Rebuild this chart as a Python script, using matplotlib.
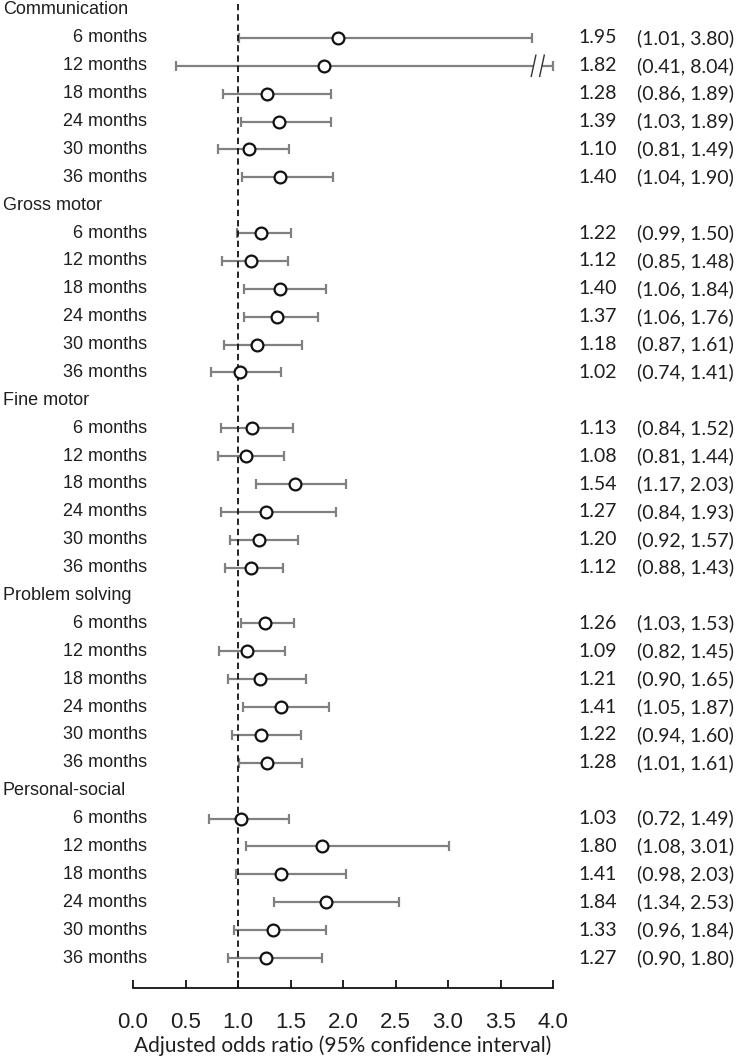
import matplotlib
matplotlib.use("Agg")
import matplotlib.pyplot as plt
import matplotlib.transforms as mtransforms
import numpy as np

domains = ["Communication", "Gross motor", "Fine motor", "Problem solving", "Personal-social"]
ages = ["6 months", "12 months", "18 months", "24 months", "30 months", "36 months"]

or_vals = [
    [1.95, 1.82, 1.28, 1.39, 1.10, 1.40],
    [1.22, 1.12, 1.40, 1.37, 1.18, 1.02],
    [1.13, 1.08, 1.54, 1.27, 1.20, 1.12],
    [1.26, 1.09, 1.21, 1.41, 1.22, 1.28],
    [1.03, 1.80, 1.41, 1.84, 1.33, 1.27],
]
ci_low = [
    [1.01, 0.41, 0.86, 1.03, 0.81, 1.04],
    [0.99, 0.85, 1.06, 1.06, 0.87, 0.74],
    [0.84, 0.81, 1.17, 0.84, 0.92, 0.88],
    [1.03, 0.82, 0.90, 1.05, 0.94, 1.01],
    [0.72, 1.08, 0.98, 1.34, 0.96, 0.90],
]
ci_high = [
    [3.80, 8.04, 1.89, 1.89, 1.49, 1.90],
    [1.50, 1.48, 1.84, 1.76, 1.61, 1.41],
    [1.52, 1.44, 2.03, 1.93, 1.57, 1.43],
    [1.53, 1.45, 1.65, 1.87, 1.60, 1.61],
    [1.49, 3.01, 2.03, 2.53, 1.84, 1.80],
]
xticks = [0.0, 0.5, 1.0, 1.5, 2.0, 2.5, 3.0, 3.5, 4.0]
xlabel = "Adjusted odds ratio (95% confidence interval)"

W, H = 739, 1057
fig = plt.figure(figsize=(W / 100, H / 100), dpi=100)
ax_left, ax_right = 133 / W, 553 / W
ax_bottom, ax_top = (H - 988) / H, 1.0
ax = fig.add_axes([ax_left, ax_bottom, ax_right - ax_left, ax_top - ax_bottom])

xmax = 4.0
row_px = 948 / 34.0
ax.set_xlim(0, xmax)
ax.set_ylim(34 + 30 / row_px, -10 / row_px)

label_font = "Liberation Sans"
num_font = "Lato"
txt_col = "#1f1f1f"

trans_fig_x = mtransforms.blended_transform_factory(fig.transFigure, ax.transData)

grey = "#808080"
row = 0
for d, dom in enumerate(domains):
    ax.text(3 / W, row, dom, transform=trans_fig_x, ha="left", va="center",
            fontsize=13, family=label_font, color=txt_col)
    row += 1
    for a, age in enumerate(ages):
        o, lo, hi = or_vals[d][a], ci_low[d][a], ci_high[d][a]
        hi_draw = min(hi, xmax)
        ax.errorbar([o], [row], xerr=[[o - lo], [hi_draw - o]], fmt="none",
                    ecolor=grey, elinewidth=1.6, capsize=3.5, capthick=1.6, zorder=2,
                    clip_on=False)
        if hi > xmax:
            # axis break marks
            b1, b2 = 3.815, 3.895
            ax.plot([b1 + 0.004, b2 - 0.004], [row, row], color="white", lw=3, zorder=2.5,
                    solid_capstyle="butt", clip_on=False)
            for b in (b1, b2):
                ax.plot([b - 0.022, b + 0.022], [row + 0.38, row - 0.38], color="#333333",
                        lw=1.0, zorder=2.6, clip_on=False)
        ax.plot([o], [row], marker="o", ms=8.5, mfc="white", mec="#111111", mew=1.6,
                zorder=4, clip_on=False)
        ax.text(147 / W, row, age, transform=trans_fig_x, ha="right", va="center",
                fontsize=13, family=label_font, color=txt_col)
        ax.text(578 / W, row, f"{o:.2f}", transform=trans_fig_x, ha="left", va="center",
                fontsize=14, family=num_font, color=txt_col)
        ax.text(637 / W, row, f"({lo:.2f}, {hi:.2f})", transform=trans_fig_x, ha="left",
                va="center", fontsize=14, family=num_font, color=txt_col)
        row += 1

ax.axvline(1.0, color="#111111", lw=1.3, ls=(0, (3.5, 2.2)), zorder=3)

for s in ["top", "left", "right"]:
    ax.spines[s].set_visible(False)
ax.spines["bottom"].set_linewidth(1.3)
ax.spines["bottom"].set_color("#111111")
ax.set_yticks([])
ax.set_xticks(xticks)
ax.set_xticklabels([f"{t:.1f}" for t in xticks], family=label_font, fontsize=16, color=txt_col)
ax.tick_params(axis="x", direction="in", length=5.5, width=1.3, color="#111111", pad=17)
ax.set_xlabel(xlabel, family=num_font, fontsize=15, color=txt_col, labelpad=2)

fig.savefig("out.png", dpi=100)
